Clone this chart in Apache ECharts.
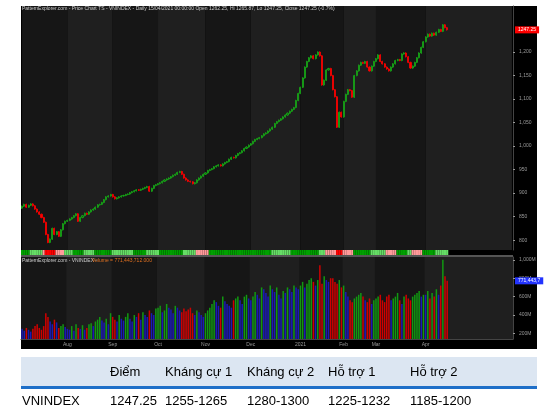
<!DOCTYPE html>
<html><head><meta charset="utf-8">
<script src="https://cdn.jsdelivr.net/npm/echarts@6/dist/echarts.min.js"></script>
<style>html,body{margin:0;padding:0;background:#fff}#c{width:560px;height:416px}</style>
</head><body><div id="c"></div>
<script>
const closes=[872,876,870,874,877,873,866,860,855,848,838,812,795,802,825,812,818,808,822,835,840,
842,845,848,852,856,840,848,852,857,855,860,864,866,870,875,876,880,886,892,894,897,
892,888,890,892,894,895,897,898,901,903,905,907,906,908,910,912,914,904,910,916,918,
920,922,925,928,930,932,935,938,940,944,946,940,932,928,925,924,920,922,928,932,936,940,
943,948,950,952,956,958,960,958,962,965,967,972,976,975,980,984,986,990,995,998,1002,
1005,1010,1014,1016,1018,1022,1026,1028,1032,1036,1040,1048,1052,1055,1058,1062,1066,1070,1074,1078,1082,1097,1112,
1125,1145,1168,1180,1188,1192,1186,1194,1200,1192,1130,1140,1162,1165,1150,1120,1105,1040,1072,1062,
1095,1110,1120,1118,1104,1150,1160,1172,1178,1176,1180,1168,1160,1170,1180,
1186,1194,1180,1175,1168,1164,1160,1168,1175,1182,1184,1182,1196,1198,1190,1178,1166,1170,1178,1188,1198,1210,1222,
1232,1238,1234,1240,1236,1242,1248,1244,1258,1252,1247.25];
const firstOpen=868;
const volumes=[250,230,260,240,220,250,280,300,260,240,280,420,380,330,300,350,320,260,280,300,270,
250,240,280,230,300,260,250,290,240,260,300,310,280,330,350,380,340,320,360,300,420,
380,350,330,400,360,340,380,420,360,330,400,380,420,350,430,400,380,450,420,400,470,
480,500,430,450,520,480,460,420,500,480,450,430,470,440,460,480,420,400,450,430,400,380,
420,450,480,520,560,540,500,480,600,550,520,500,480,560,580,600,560,520,600,620,580,
560,600,650,620,580,700,680,640,600,720,680,650,700,620,580,660,640,700,680,650,720,700,680,
720,760,700,740,780,800,760,720,780,940,740,820,780,760,800,800,760,740,780,700,
720,650,600,560,540,580,600,620,640,600,560,540,580,520,560,
580,600,620,560,540,600,620,560,580,600,640,560,520,600,620,580,560,600,620,640,660,600,620,
620,660,580,640,600,680,620,720,1000,820,771.44];
const stripRuns=[['G',4],['L',6],['P',1],['R',5],['P',4],['L',4],['G',5],['L',5],['G',8],['L',10],['G',6],['L',6],['G',11],['L',6],['P',6],['G',29],['L',9],['G',2],['G',11],['L',3],['P',5],['R',3],['P',5],['G',8],['L',7],['P',5],['G',5],['L',2],['P',5],['G',6],['L',6]];
const priceTicks=[800,850,900,950,1000,1050,1100,1150,1200];
const volTicks=[200,400,600,800,1000];
const monthNames=['Jan','Feb','Mar','Apr','May','Jun','Jul','Aug','Sep','Oct','Nov','Dec'];
const headers=['Điểm','Kháng cự 1','Kháng cự 2','Hỗ trợ 1','Hỗ trợ 2'];
const rowLabel='VNINDEX';
const rowValues=['1247.25','1255-1265','1280-1300','1225-1232','1185-1200'];

const holidays=new Set(['2020-09-02','2021-01-01','2021-02-10','2021-02-11','2021-02-12','2021-02-15','2021-02-16']);
const dates=[];let d=new Date(Date.UTC(2020,6,3));
const iso=x=>x.toISOString().slice(0,10);
while(dates.length<closes.length){const w=d.getUTCDay();if(w!==0&&w!==6&&!holidays.has(iso(d)))dates.push(iso(d));d=new Date(d.getTime()+86400000);}
const cats=dates.slice();for(let i=0;i<30;i++)cats.push('x'+i);
const candles=closes.map((c,i)=>{const o=i?closes[i-1]:firstOpen;return [o,c,Math.min(o,c)-1.5,Math.max(o,c)+1.5];});
const volData=volumes.map((v,i)=>{const o=i?closes[i-1]:firstOpen;const c=closes[i];let col=c<o?'#d00000':(i&&v>volumes[i-1]?'#119911':'#1a1ab8');return {value:v,itemStyle:{color:col}};});
const stripCol={G:'#00a000',L:'#66dd66',R:'#ff0000',P:'#ff9a9a'};
const stripData=[];stripRuns.forEach(([s,n])=>{for(let k=0;k<n;k++)stripData.push({value:1,itemStyle:{color:stripCol[s]}});});
const monthStarts=[0];for(let i=1;i<dates.length;i++)if(dates[i].slice(5,7)!==dates[i-1].slice(5,7))monthStarts.push(i);
const bands=[];monthStarts.forEach((s,k)=>{const e=k+1<monthStarts.length?monthStarts[k+1]:cats.length-1;bands.push([{xAxis:cats[s],itemStyle:{color:k%2?'#1f1f1f':'#161616'}},{xAxis:cats[e]}]);});
const isMonthStart=new Set(monthStarts.slice(1));
const xLab=(v,i)=>{if(!isMonthStart.has(i))return '';const m=+v.slice(5,7);return m===1?v.slice(0,4):monthNames[m-1];};

const chart=echarts.init(document.getElementById('c'));
const gray='#9a9a9a';
const T=(x,y,t,opt)=>({type:'text',left:x,top:y,z:100,style:Object.assign({text:t,fill:'#000',font:'13px "Liberation Sans", Arial'},opt||{})});
chart.setOption({
  animation:false,backgroundColor:'#fff',
  graphic:[
    {type:'rect',shape:{x:21,y:6,width:516,height:343},style:{fill:'#000'},z:-10,silent:true},
    {type:'rect',shape:{x:21,y:255,width:492,height:2},style:{fill:'#555'},z:50},
    T(22,6,'PatternExplorer.com - Price Chart TS - VNINDEX - Daily 15/04/2021 00:00:00 Open 1262.25, Hi 1265.87, Lo 1247.25, Close 1247.25 (-0.7%)',{fill:'#ccc',font:'5px "Liberation Sans"'}),
    T(22,258,'PatternExplorer.com - VNINDEX - ',{fill:'#ccc',font:'5px "Liberation Sans"'}),
    T(92,258,'Volume = 771,443,712.000',{fill:'#e07020',font:'5px "Liberation Sans"'}),
    {type:'rect',shape:{x:21,y:357,width:516,height:30},style:{fill:'#dce6f2'},z:90},
    {type:'rect',shape:{x:21,y:386,width:516,height:3},style:{fill:'#1f6fc8'},z:91},
    ...headers.map((h,k)=>T([110,165,247,328,410][k],366,h)),
    T(22,395,rowLabel),
    ...rowValues.map((h,k)=>T([110,165,247,328,410][k],395,h))
  ],
  grid:[{left:21,right:47,top:6,height:244},{left:21,right:47,top:250,height:5},{left:21,right:47,top:257,height:82}],
  xAxis:[
    {type:'category',gridIndex:0,data:cats,boundaryGap:true,axisLine:{show:false},axisTick:{show:false},axisLabel:{show:false}},
    {type:'category',gridIndex:1,data:cats,show:false},
    {type:'category',gridIndex:2,data:cats,axisLine:{lineStyle:{color:'#444'}},axisTick:{show:false},
     axisLabel:{interval:0,formatter:xLab,color:gray,fontSize:5,margin:3}}
  ],
  yAxis:[
    {type:'value',gridIndex:0,position:'right',min:779,max:1298,splitLine:{show:false},axisLine:{show:true,lineStyle:{color:'#444'}},
     axisTick:{show:true,customValues:priceTicks,length:2,lineStyle:{color:gray}},
     axisLabel:{customValues:priceTicks,color:gray,fontSize:5,margin:6,formatter:v=>v.toLocaleString('en-US')}},
    {type:'value',gridIndex:1,show:false,min:0,max:1},
    {type:'value',gridIndex:2,position:'right',min:140,max:1030,splitLine:{show:false},axisLine:{show:true,lineStyle:{color:'#444'}},
     axisTick:{show:true,customValues:volTicks,length:2,lineStyle:{color:gray}},
     axisLabel:{customValues:volTicks,color:gray,fontSize:5,margin:6,formatter:v=>v.toLocaleString('en-US')+'M'}}
  ],
  series:[
    {type:'candlestick',xAxisIndex:0,yAxisIndex:0,data:candles,barWidth:1.6,
     itemStyle:{color:'#0b5a0b',borderColor:'#18b018',color0:'#ff0000',borderColor0:'#ff0000',borderWidth:0.8},
     markArea:{silent:true,data:bands,z:-1},
     markLine:{silent:true,symbol:'none',z:20,data:[{yAxis:1247.25}],lineStyle:{color:'rgba(0,0,0,0)',width:1,type:'solid'},
       label:{show:true,position:'end',formatter:'1247.25',color:'#fff',backgroundColor:'#ff0000',fontSize:5,padding:[1,3],distance:2}}},
    {type:'bar',xAxisIndex:1,yAxisIndex:1,data:stripData,barCategoryGap:0,barWidth:'100%'},
    {type:'bar',xAxisIndex:2,yAxisIndex:2,data:volData,barWidth:1.5,
     markArea:{silent:true,data:bands},
     markLine:{silent:true,symbol:'none',z:20,data:[{yAxis:771.44}],lineStyle:{color:'rgba(0,0,0,0)',width:1,type:'solid'},
       label:{show:true,position:'end',formatter:'771,443,7',color:'#fff',backgroundColor:'#2233ff',fontSize:5,padding:[1,3],distance:2}}}
  ]
});
</script></body></html>
